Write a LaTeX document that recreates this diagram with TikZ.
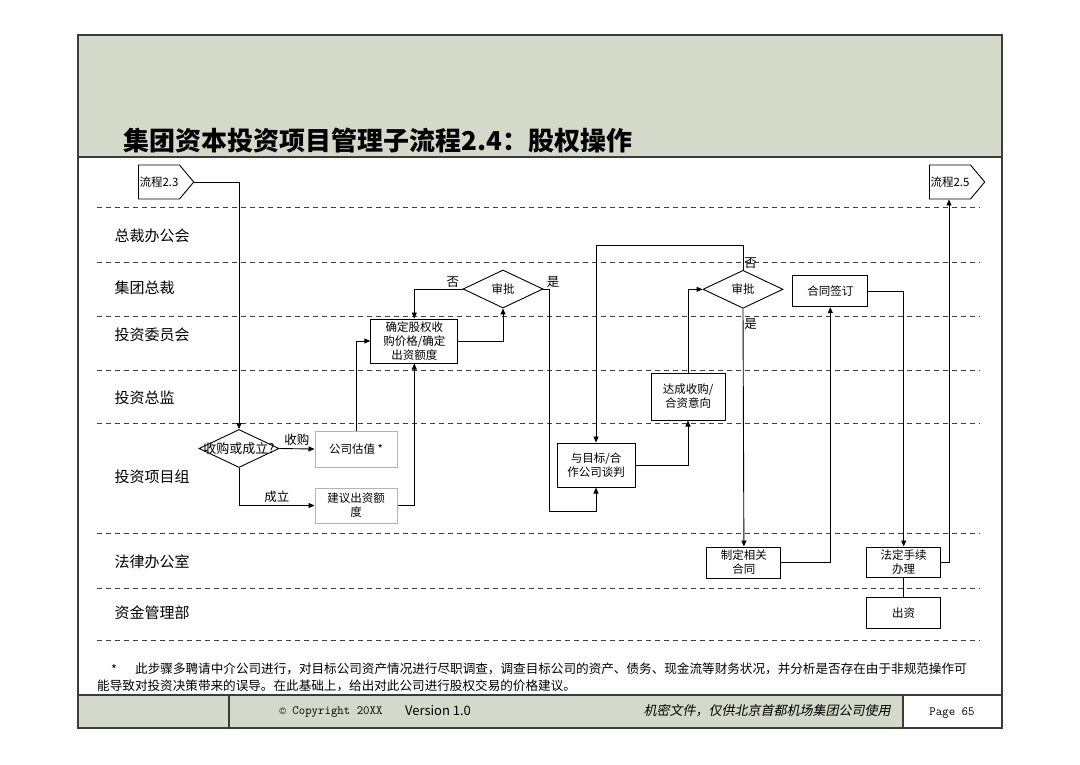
\documentclass[tikz,border=0pt]{standalone}
\usepackage{fontspec}
\setmainfont{Noto Sans CJK SC}
\newfontfamily\itcjk{Noto Sans CJK SC}[FakeSlant=0.2]
\usetikzlibrary{arrows.meta,shapes.geometric,shapes.symbols}
\definecolor{hdr}{RGB}{212,217,202}
\definecolor{framec}{RGB}{60,60,60}
\definecolor{lightbd}{RGB}{180,180,180}

\begin{document}
\begin{tikzpicture}[x=1pt,y=-1pt, >={Triangle[length=6pt,width=5pt]},
  every node/.style={font=\fontsize{11.5}{14}\selectfont},
  box/.style={draw,line width=1pt,align=center,inner sep=1pt},
  gbox/.style={box,draw=lightbd},
  dec/.style={draw,diamond,line width=0.9pt,minimum width=80pt,minimum height=38pt,inner sep=0pt},
  sig/.style={draw,signal,signal to=east,signal from=nowhere,line width=0.9pt,
    minimum width=53pt,minimum height=34pt,inner sep=1pt,signal pointer angle=100},
  lanelbl/.style={anchor=west,font=\fontsize{15}{17}\selectfont},
  lbl/.style={font=\fontsize{12.5}{14}\selectfont,inner sep=1pt},
  lane/.style={dashed,dash pattern=on 5pt off 4pt,line width=1pt,black!75},
  flow/.style={->,line width=0.9pt},
  frame/.style={line width=1.4pt,draw=framec}]
\useasboundingbox (0,0) rectangle (1080,764);
% frame and header
\draw[frame] (78,35) rectangle (1002,728);
\draw[frame,fill=hdr] (78,35) rectangle (1002,157);
\node[anchor=west,font=\fontsize{26}{30}\selectfont\bfseries] (title) at (120,141)
  {集团资本投资项目管理子流程2.4：股权操作};
% footer
\draw[frame,fill=hdr] (78,695) rectangle (903,728);
\draw[frame] (229,695) -- (229,728);
\draw[frame,fill=white] (903,695) rectangle (1002,728);
\node[font=\ttfamily\fontsize{12.5}{14}\selectfont] (copy) at (331,712) {\textcopyright\ Copyright 20XX};
\node[font=\fontsize{13}{15}\selectfont] (ver) at (438,711) {Version 1.0};
\node[font=\itcjk\fontsize{13}{15}\selectfont] (conf) at (767,711) {机密文件，仅供北京首都机场集团公司使用};
\node[font=\ttfamily\fontsize{12.5}{14}\selectfont] (pg) at (952,713) {Page 65};
% note
\node[font=\fontsize{12.5}{14}\selectfont] (star) at (114,670) {*};
\node[anchor=west,inner sep=0pt,font=\fontsize{12.6}{14}\selectfont] (note1) at (135,669)
  {此步骤多聘请中介公司进行，对目标公司资产情况进行尽职调查，调查目标公司的资产、债务、现金流等财务状况，并分析是否存在由于非规范操作可};
\node[anchor=west,inner sep=0pt,font=\fontsize{12.6}{14}\selectfont] (note2) at (97,686)
  {能导致对投资决策带来的误导。在此基础上，给出对此公司进行股权交易的价格建议。};
% lanes
\foreach \y in {207,262,316,370,423,533,588,640}
  \draw[lane] (97,\y) -- (980,\y);
\foreach \t/\y in {总裁办公会/236,集团总裁/288,投资委员会/335,投资总监/398,投资项目组/477,法律办公室/562,资金管理部/613}
  \node[lanelbl] (lane\y) at (111,\y) {\t};
% steps
\node[sig] (p23) at (159,182) {流程2.3};
\node[sig] (p25) at (950,182) {流程2.5};
\node[dec] (d1) at (239,448.5) {};
\node[font=\fontsize{13}{15}\selectfont] (d1t) at (d1) {收购或成立?};
\node[gbox,minimum width=82pt,minimum height=36pt] (gs) at (356,449) {公司估值 *};
\node[gbox,minimum width=82pt,minimum height=35pt] (jy) at (356,505.5) {建议出资额\\度};
\node[box,minimum width=87pt,minimum height=44pt] (qd) at (414.3,341) {确定股权收\\购价格/确定\\出资额度};
\node[dec] (s1) at (503,289) {审批};
\node[box,minimum width=78pt,minimum height=44pt] (tb) at (596,465) {与目标/合\\作公司谈判};
\node[box,minimum width=74pt,minimum height=47pt] (dc) at (688,396.5) {达成收购/\\合资意向};
\node[dec] (s2) at (743,289.3) {审批};
\node[box,minimum width=74pt,minimum height=31pt] (hc) at (743.9,562.5) {制定相关\\合同};
\node[box,minimum width=75pt,minimum height=31pt] (qy) at (830.3,291.2) {合同签订};
\node[box,minimum width=74pt,minimum height=30pt] (fd) at (903.7,562) {法定手续\\办理};
\node[box,minimum width=74pt,minimum height=31pt] (cz) at (903.7,613) {出资};
% connectors
\draw[flow] (p23.east) -| (d1.north);
\draw[flow] (d1.east) -- (gs.west) node[lbl,midway,above=2pt] {收购};
\draw[flow] (d1.south) |- (jy.west) node[lbl,pos=0.75,above=1pt] {成立};
\draw[flow] (gs.north) |- (qd.west);
\draw[flow] (jy.east) -| (qd.south);
\draw[flow] (qd.east) -| (s1.south);
\draw[flow] (s1.west) node[lbl,anchor=south east,xshift=-2pt] {否} -| (qd.north);
\draw[flow] (s1.east) node[lbl,anchor=south west,xshift=2pt] {是} -- ++(6,0)
  |- ([yshift=-24pt]tb.south) -- (tb.south);
\draw[flow] (tb.east) -| (dc.south);
\draw[flow] (dc.north) |- (s2.west);
\draw[flow] (s2.north) node[lbl,anchor=south west] {否} -- ++(0,-24) -| (tb.north);
\draw[flow] (s2.south) node[lbl,anchor=north west,yshift=-8pt] {是} -- (hc.north);
\draw[flow] (hc.east) -| (qy.south);
\draw[flow] (qy.east) -| (fd.north);
\draw[flow] (fd.east) -| ([xshift=-1pt]p25.south);
\draw[line width=0.9pt] (fd.south) -- (cz.north);
\end{tikzpicture}
\end{document}
